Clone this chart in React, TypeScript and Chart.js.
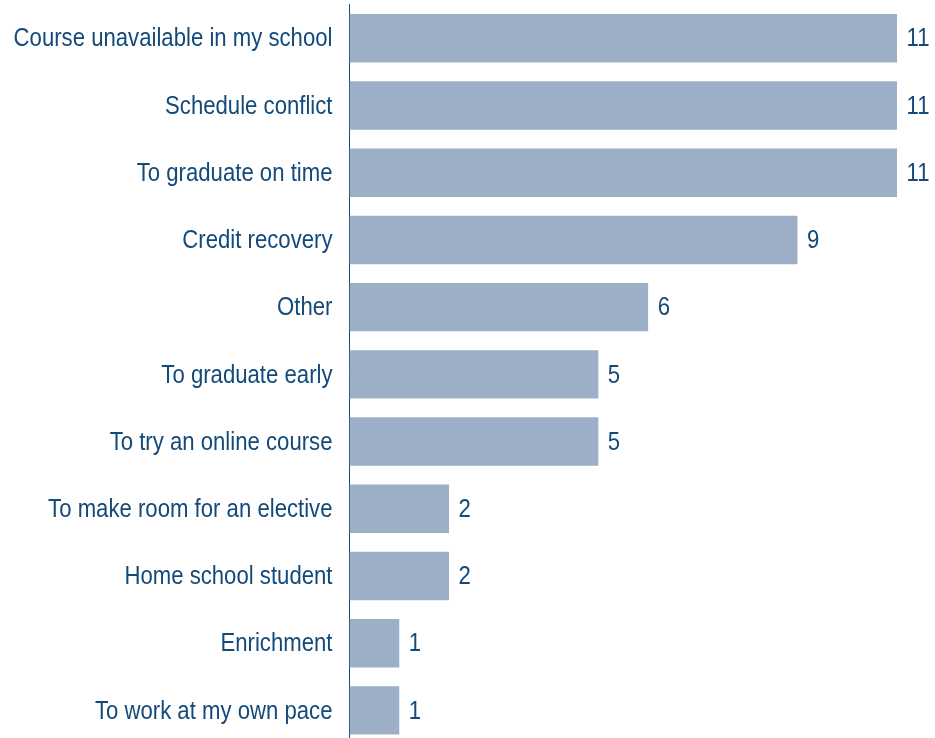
import React, { useEffect, useRef } from "react";
import { Chart, registerables } from "chart.js";

Chart.register(...registerables);

const categories = [
  "Course unavailable in my school",
  "Schedule conflict",
  "To graduate on time",
  "Credit recovery",
  "Other",
  "To graduate early",
  "To try an online course",
  "To make room for an elective",
  "Home school student",
  "Enrichment",
  "To work at my own pace",
];
const values = [11, 11, 11, 9, 6, 5, 5, 2, 2, 1, 1];

const TEXT = "#134a7a";
const BAR = "#9dafc7";
const FONT = '"Liberation Sans", Arial, sans-serif';
const FONT_SIZE = 26;
const CONDENSE = 0.852;

function drawCondensed(ctx: CanvasRenderingContext2D, text: string, x: number, y: number, align: "left" | "right") {
  ctx.save();
  ctx.translate(x, y);
  ctx.scale(CONDENSE, 1);
  ctx.textAlign = align;
  ctx.fillText(text, 0, 0);
  ctx.restore();
}

export default function App() {
  const ref = useRef<HTMLCanvasElement | null>(null);
  useEffect(() => {
    document.documentElement.style.overflow = "hidden";
    document.body.style.overflow = "hidden";
    document.body.style.margin = "0";
    const labelPlugin = {
      id: "textLabels",
      afterDatasetsDraw(chart: any) {
        const ctx = chart.ctx as CanvasRenderingContext2D;
        const meta = chart.getDatasetMeta(0);
        const yScale = chart.scales.y;
        ctx.save();
        ctx.fillStyle = TEXT;
        ctx.font = `${FONT_SIZE}px ${FONT}`;
        ctx.textBaseline = "middle";
        meta.data.forEach((el: any, i: number) => {
          drawCondensed(ctx, String(values[i]), el.x + 9.5, el.y + 1, "left");
        });
        categories.forEach((c, i) => {
          const y = yScale.getPixelForTick(i);
          drawCondensed(ctx, c, chart.chartArea.left - 17, y + 1, "right");
        });
        ctx.restore();
      },
    };
    const chart = new Chart(ref.current!, {
      type: "bar",
      data: {
        labels: categories,
        datasets: [
          {
            data: values,
            backgroundColor: BAR,
            borderWidth: 0,
            categoryPercentage: 1,
            barPercentage: 0.72,
          },
        ],
      },
      options: {
        indexAxis: "y",
        animation: false,
        responsive: false,
        maintainAspectRatio: false,
        layout: { padding: { top: 4.7, right: 38, bottom: 0, left: 0 } },
        plugins: { legend: { display: false }, tooltip: { enabled: false } },
        scales: {
          x: { display: false, min: 0, max: 11 },
          y: {
            grid: { display: false, drawTicks: false },
            border: { display: true, color: TEXT, width: 1 },
            ticks: { display: false },
            afterFit(scale: any) {
              scale.width = 349.5;
            },
          },
        },
      },
      plugins: [labelPlugin],
    });
    return () => chart.destroy();
  }, []);
  return (
    <div style={{ width: 935, height: 744 }}>
      <canvas ref={ref} width={935} height={744} style={{ display: "block" }} />
    </div>
  );
}
